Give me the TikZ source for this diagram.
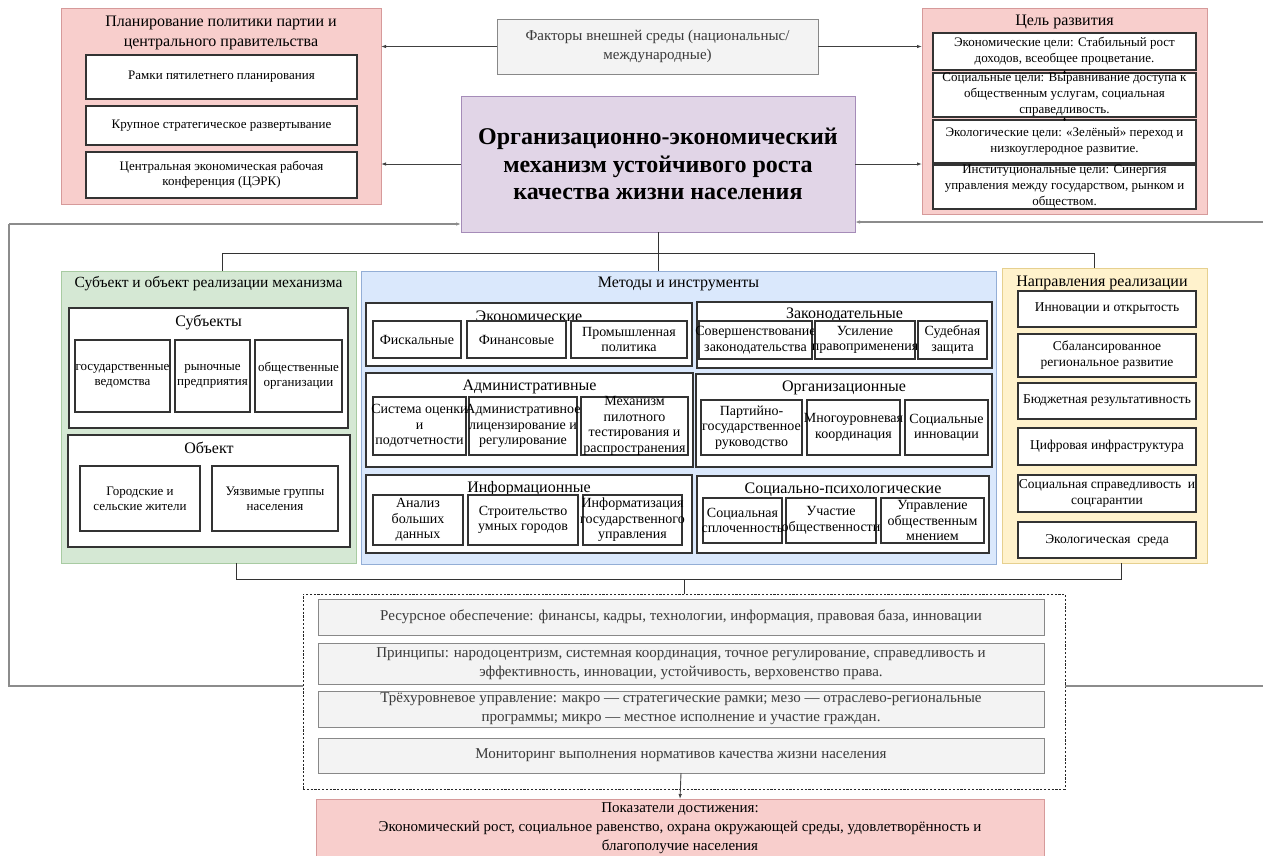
\documentclass[tikz,border=0pt]{standalone}
\usepackage{fontspec}
\setmainfont{Liberation Serif}
\usetikzlibrary{arrows.meta}
\definecolor{redF}{HTML}{F8CECC}
\definecolor{redD}{HTML}{D69A9A}
\definecolor{purF}{HTML}{E1D5E7}
\definecolor{purD}{HTML}{A58CB8}
\definecolor{grnF}{HTML}{D5E8D4}
\definecolor{grnD}{HTML}{A8CBA2}
\definecolor{bluF}{HTML}{DAE8FC}
\definecolor{bluD}{HTML}{93AED6}
\definecolor{yelF}{HTML}{FFF2CC}
\definecolor{yelD}{HTML}{E6D08F}
\definecolor{gryF}{HTML}{F3F3F3}
\definecolor{gryD}{HTML}{888888}
\definecolor{gryT}{HTML}{3A3A3A}
\newcommand\fs[2]{\fontsize{#1}{#2}\selectfont}
% style, text style, name, x1, x2, y1, y2, text
\newcommand\bx[8]{%
  \node[#1, minimum width={(#5)-(#4)}, minimum height={(#7)-(#6)}] (#3) at ({(#4+#5)/2},{(#6+#7)/2}) {};
  \node[#2] (#3t) at (#3.center) {#8};}
\begin{document}
\begin{tikzpicture}[x=1pt,y=-1pt,
  base/.style={inner sep=0pt, outer sep=0pt, rectangle},
  wbox/.style={base, draw=black!80, line width=1.1pt, fill=white},
  redp/.style={base, draw=redD, line width=1pt, fill=redF},
  purp/.style={base, draw=purD, line width=1pt, fill=purF},
  grnp/.style={base, draw=grnD, line width=1pt, fill=grnF},
  blup/.style={base, draw=bluD, line width=1pt, fill=bluF},
  yelp/.style={base, draw=yelD, line width=1pt, fill=yelF},
  gryb/.style={base, draw=gryD, line width=1pt, fill=gryF},
  dashb/.style={base, draw=black!85, line width=0.9pt, dash pattern=on 2.2pt off 1.6pt},
  t13/.style={inner sep=0pt, align=center, font=\fs{13}{15}},
  t14/.style={inner sep=0pt, align=center, font=\fs{14}{15.5}},
  tg/.style={inner sep=0pt, align=center, font=\fs{13}{16}},
  ty/.style={inner sep=0pt, align=center, font=\fs{13.5}{16}},
  tgray/.style={inner sep=0pt, align=center, text=gryT, font=\fs{15}{19}},
  ttl/.style={inner sep=0pt, align=center, font=\fs{16}{20}},
  tbig/.style={inner sep=0pt, align=center, font=\fs{24}{27.5}\bfseries},
  tres/.style={inner sep=0pt, align=center, font=\fs{15}{19}},
  conn/.style={draw=black!80, line width=1pt},
  arr/.style={draw=black!75, line width=0.9pt, -{Latex[length=5pt,width=3.5pt]}},
  fb/.style={draw=black!45, line width=1.1pt},
  tiny/.style={draw=black, line width=0.6pt, -{Latex[length=3pt,width=3pt]}}
]
\useasboundingbox (0,0) rectangle (1263,855);

% ---------- top row ----------
\bx{redp}{ttl}{plan}{61}{381}{8}{204}{}
\node[ttl] (plantitle) at (221,33) {Планирование политики партии и\\центрального правительства};
\bx{wbox}{t13}{pl1}{86}{357}{55}{99}{Рамки пятилетнего планирования}
\bx{wbox}{t13}{pl2}{86}{357}{106}{145}{Крупное стратегическое развертывание}
\bx{wbox}{t13}{pl3}{86}{357}{152}{198}{Центральная экономическая рабочая\\конференция (ЦЭРК)}

\bx{gryb}{tgray}{fact}{497}{818}{19}{74}{Факторы внешней среды (национальныс/\\международные)}

\bx{purp}{tbig}{core}{461}{855}{96}{232}{Организационно-экономический\\механизм устойчивого роста\\качества жизни населения}

\bx{redp}{ttl}{goal}{922}{1207}{8}{214}{}
\node[ttl] (goaltitle) at (1064.5,22) {Цель развития};
\bx{wbox}{tg}{g1}{933}{1196}{33}{70}{Экономические цели: Стабильный рост\\доходов, всеобщее процветание.}
\bx{wbox}{tg}{g2}{933}{1196}{73}{117}{Социальные цели: Выравнивание доступа к\\общественным услугам, социальная\\справедливость.}
\bx{wbox}{tg}{g3}{933}{1196}{120}{163}{Экологические цели: «Зелёный» переход и\\низкоуглеродное развитие.}
\bx{wbox}{tg}{g4}{933}{1196}{165}{209}{Институциональные цели: Синергия\\управления между государством, рынком и\\обществом.}
\draw[tiny] (g2.north) -- (g1.south);
\draw[tiny] (g3.north) -- (g2.south);

% top arrows
\draw[arr] (fact.west) -- (fact.west -| plan.east);
\draw[arr] (fact.east) -- (fact.east -| goal.west);
\draw[arr] (core.west) -- (core.west -| plan.east);
\draw[arr] (core.east) -- (core.east -| goal.west);

% ---------- middle panels ----------
\bx{grnp}{ttl}{subj}{61}{356}{271}{563}{}
\node[ttl, font=\fs{15.5}{19}] (subjtitle) at (208.5,284) {Субъект и объект реализации механизма};
\bx{wbox}{ttl}{sbs}{69}{348}{308}{428}{}
\node[ttl] (sbstitle) at (208.5,322) {Субъекты};
\bx{wbox}{t13}{s1}{75}{170}{340}{412}{государственные\\ведомства}
\bx{wbox}{t13}{s2}{175}{250}{340}{412}{рыночные\\предприятия}
\bx{wbox}{t13}{s3}{255}{342}{340}{412}{общественные\\организации}
\bx{wbox}{ttl}{obj}{68}{350}{435}{547}{}
\node[ttl] (objtitle) at (209,448) {Объект};
\bx{wbox}{t13}{o1}{80}{200}{466}{531}{Городские и\\сельские жители}
\bx{wbox}{t13}{o2}{212}{338}{466}{531}{Уязвимые группы\\населения}

\bx{blup}{ttl}{meth}{361}{996}{271}{564}{}
\node[ttl] (methtitle) at (678.5,284) {Методы и инструменты};

\bx{wbox}{ttl}{eco}{366}{692}{303}{366}{}
\node[ttl] (ecotitle) at (529,316) {Экономические};
\bx{wbox}{t14}{e1}{373}{461}{321}{358}{Фискальные}
\bx{wbox}{t14}{e2}{467}{566}{321}{358}{Финансовые}
\bx{wbox}{t14}{e3}{571}{687}{321}{358}{Промышленная\\политика}

\bx{wbox}{ttl}{leg}{697}{992}{302}{368}{}
\node[ttl] (legtitle) at (844.5,315) {Законодательные};
\bx{wbox}{t14}{l1}{699}{812}{321}{359}{Совершенствование\\законодательства}
\bx{wbox}{t14}{l2}{815}{915}{321}{359}{Усиление\\правоприменения}
\bx{wbox}{t14}{l3}{918}{987}{321}{359}{Судебная\\защита}

\bx{wbox}{ttl}{adm}{366}{693}{373}{467}{}
\node[ttl] (admtitle) at (529.5,387) {Административные};
\bx{wbox}{t14}{a1}{373}{466}{397}{455}{Система оценки\\и\\подотчетности}
\bx{wbox}{t14}{a2}{469}{577}{397}{455}{Административное\\лицензирование и\\регулирование}
\bx{wbox}{t14}{a3}{581}{688}{397}{455}{Механизм\\пилотного\\тестирования и\\распространения}

\bx{wbox}{ttl}{org}{696}{992}{374}{467}{}
\node[ttl] (orgtitle) at (844,388) {Организационные};
\bx{wbox}{t14}{r1}{701}{802}{400}{455}{Партийно-\\государственное\\руководство}
\bx{wbox}{t14}{r2}{807}{900}{400}{455}{Многоуровневая\\координация}
\bx{wbox}{t14}{r3}{905}{988}{400}{455}{Социальные\\инновации}

\bx{wbox}{ttl}{inf}{366}{692}{475}{553}{}
\node[ttl] (inftitle) at (529,489) {Информационные};
\bx{wbox}{t14}{i1}{373}{463}{495}{545}{Анализ\\больших\\данных}
\bx{wbox}{t14}{i2}{468}{578}{495}{545}{Строительство\\умных городов}
\bx{wbox}{t14}{i3}{583}{682}{495}{545}{Информатизация\\государственного\\управления}

\bx{wbox}{ttl}{soc}{697}{989}{476}{553}{}
\node[ttl] (soctitle) at (843,490) {Социально-психологические};
\bx{wbox}{t14}{p1}{703}{782}{498}{543}{Социальная\\сплоченность}
\bx{wbox}{t14}{p2}{786}{876}{498}{543}{Участие\\общественности}
\bx{wbox}{t14}{p3}{881}{984}{498}{543}{Управление\\общественным\\мнением}

\bx{yelp}{ttl}{dir}{1002}{1207}{268}{563}{}
\node[ttl] (dirtitle) at (1102,283) {Направления реализации};
\bx{wbox}{ty}{d1}{1018}{1196}{291}{327}{Инновации и открытость}
\bx{wbox}{ty}{d2}{1018}{1196}{334}{377}{Сбалансированное\\региональное развитие}
\bx{wbox}{ty}{d3}{1018}{1196}{383}{419}{Бюджетная результативность}
\bx{wbox}{ty}{d4}{1018}{1196}{428}{465}{Цифровая инфраструктура}
\bx{wbox}{ty}{d5}{1018}{1196}{475}{512}{Социальная справедливость\ \ и\\соцгарантии}
\bx{wbox}{ty}{d6}{1018}{1196}{522}{558}{Экологическая\ \ среда}

% top bracket
\coordinate (tbL) at (222,253);
\coordinate (tbR) at (1094,253);
\draw[conn] (core.south) -- (core.south |- tbL);
\draw[conn] (tbL |- subj.north) -- (tbL) -- (tbR) -- (tbR |- dir.north);
\draw[conn] (core.south |- tbL) -- (core.south |- meth.north);

% ---------- bottom ----------
\bx{dashb}{ttl}{frame}{303}{1065}{594}{789}{}
\bx{gryb}{tgray}{b1}{318}{1044}{599}{635}{Ресурсное обеспечение: финансы, кадры, технологии, информация, правовая база, инновации}
\bx{gryb}{tgray}{b2}{318}{1044}{643}{684}{Принципы: народоцентризм, системная координация, точное регулирование, справедливость и\\эффективность, инновации, устойчивость, верховенство права.}
\bx{gryb}{tgray}{b3}{318}{1044}{691}{727}{Трёхуровневое управление: макро — стратегические рамки; мезо — отраслево-региональные\\программы; микро — местное исполнение и участие граждан.}
\bx{gryb}{tgray}{b4}{318}{1044}{738}{773}{Мониторинг выполнения нормативов качества жизни населения}

\bx{redp}{tres}{res}{316}{1044}{799}{858}{Показатели достижения:\\Экономический рост, социальное равенство, охрана окружающей среды, удовлетворённость и\\благополучие населения}

% bottom bracket
\coordinate (bbL) at (236,579);
\coordinate (bbR) at (1121,579);
\draw[conn] (bbL |- subj.south) -- (bbL) -- (bbR) -- (bbR |- dir.south);
\draw[conn] (frame.north) -- (frame.north |- bbL);
\draw[arr] (b4.south) -- (res.north);

% feedback loops
\coordinate (fbL) at (9,686);
\coordinate (fbR) at (1267,686);
\draw[fb] ([yshift=5.5pt]frame.west) -- (fbL) -- (fbL |- 0,224);
\draw[fb, -{Latex[length=5pt,width=3.5pt]}] (fbL |- 0,224) -- (core.west |- 0,224);
\draw[fb] ([yshift=5.5pt]frame.east) -- (fbR) -- (fbR |- 0,222);
\draw[fb, -{Latex[length=5pt,width=3.5pt]}] (fbR |- 0,222) -- (core.east |- 0,222);
\end{tikzpicture}
\end{document}
